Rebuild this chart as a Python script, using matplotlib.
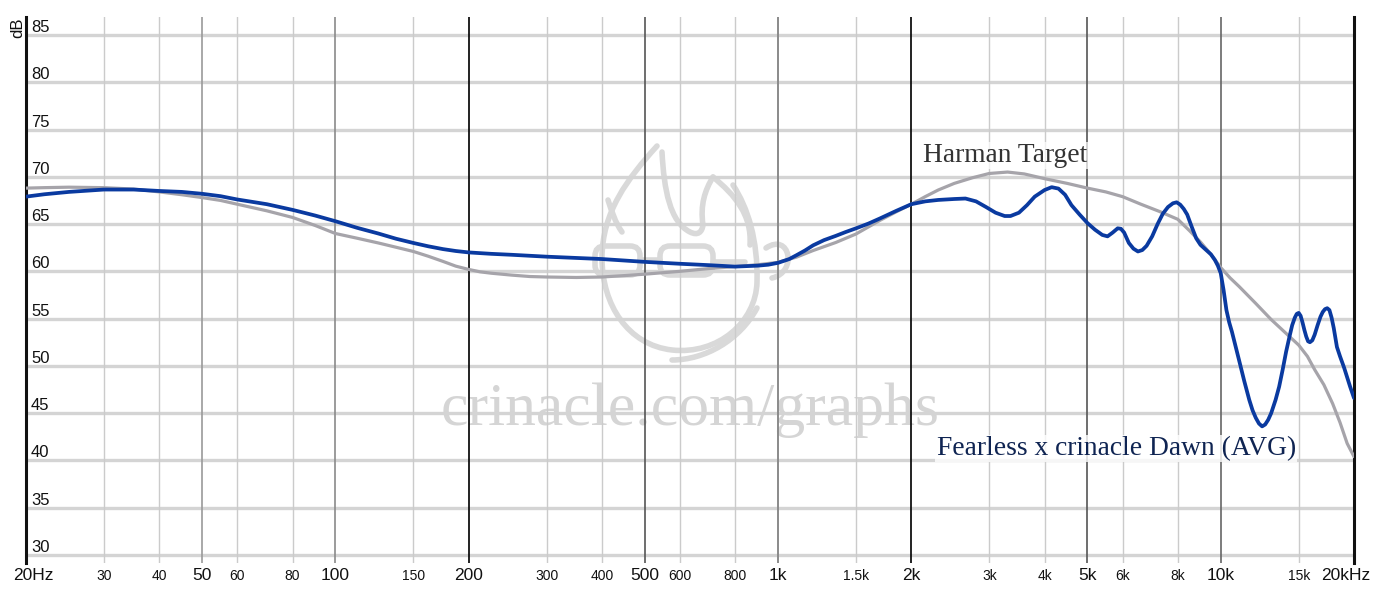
import matplotlib
matplotlib.use('Agg')
import matplotlib.pyplot as plt
from matplotlib.path import Path
from matplotlib.patches import PathPatch, FancyBboxPatch
from matplotlib.ticker import NullLocator

# ---------------- data ----------------
harman_freq = [20, 22, 25, 30, 35, 40, 45, 50, 55, 60, 70, 80, 90, 100, 112, 125, 137, 150,
               162, 175, 187, 200, 212, 225, 250, 275, 300, 350, 400, 450, 500, 600, 700,
               800, 900, 1000, 1100, 1200, 1350, 1500, 1700, 1850, 2000, 2150, 2300, 2500,
               2750, 3000, 3300, 3600, 4000, 4500, 5000, 5500, 6000, 6600, 7300, 8000,
               8500, 9000, 9500, 10000, 10500, 11000, 12000, 13000, 14000, 15000, 15700,
               16300, 17100, 17900, 18600, 19300, 20000]
harman_db = [68.8, 68.85, 68.9, 68.85, 68.7, 68.4, 68.1, 67.8, 67.5, 67.1, 66.4, 65.7, 64.85,
             64.0, 63.5, 63.0, 62.55, 62.1, 61.6, 61.05, 60.55, 60.2, 59.95, 59.8, 59.6,
             59.45, 59.4, 59.35, 59.4, 59.55, 59.7, 60.0, 60.3, 60.5, 60.7, 60.95, 61.5,
             62.2, 63.05, 63.95, 65.4, 66.3, 67.1, 67.9, 68.6, 69.3, 69.9, 70.35, 70.5, 70.3,
             69.8, 69.3, 68.8, 68.4, 67.9, 67.1, 66.3, 65.5, 64.3, 63.1, 61.8, 60.4, 59.3,
             58.4, 56.6, 54.9, 53.5, 52.2, 51.0, 49.6, 48.0, 46.0, 44.0, 41.8, 40.4]

dawn_freq = [20, 22, 25, 30, 35, 40, 45, 50, 55, 60, 70, 80, 90, 100, 112, 125, 137, 150,
             162, 175, 187, 200, 225, 250, 300, 400, 500, 600, 700, 800, 900, 950, 1000,
             1060, 1100, 1150, 1200, 1270, 1350, 1420, 1500, 1600, 1700, 1850, 2000, 2150,
             2300, 2500, 2650, 2800, 2950, 3100, 3250, 3350, 3500, 3650, 3800, 4000, 4150,
             4300, 4450, 4600, 4800, 5000, 5200, 5400, 5550, 5700, 5850, 5950, 6050, 6200,
             6350, 6500, 6650, 6800, 7000, 7200, 7400, 7600, 7800, 7950, 8100, 8250, 8400,
             8600, 8800, 9000, 9300, 9500, 9700, 9850, 10000, 10150, 10300, 10450, 10600,
             10800, 11000, 11300, 11600, 11800, 12000, 12200, 12400, 12600, 12800, 13000,
             13300, 13550, 13800, 14050, 14300, 14500, 14700, 14850, 15000, 15150, 15300,
             15450, 15600, 15750, 15900, 16100, 16300, 16550, 16800, 17000, 17200, 17400,
             17600, 17800, 18000, 18300, 18600, 19000, 19300, 19600, 20000]
dawn_db = [67.9, 68.15, 68.4, 68.65, 68.65, 68.5, 68.4, 68.2, 67.95, 67.6, 67.1, 66.5, 65.9,
           65.3, 64.6, 64.0, 63.45, 63.0, 62.65, 62.35, 62.15, 62.0, 61.85, 61.75, 61.55,
           61.3, 61.0, 60.8, 60.65, 60.5, 60.6, 60.7, 60.9, 61.3, 61.7, 62.2, 62.75, 63.3,
           63.75, 64.15, 64.55, 65.05, 65.6, 66.4, 67.1, 67.4, 67.55, 67.65, 67.7, 67.4,
           66.8, 66.2, 65.85, 65.85, 66.2, 67.0, 67.9, 68.6, 68.9, 68.75, 68.1, 67.0, 66.0,
           65.1, 64.4, 63.85, 63.7, 64.1, 64.55, 64.5, 64.1, 63.0, 62.4, 62.1, 62.25, 62.7,
           63.7, 65.0, 66.1, 66.8, 67.2, 67.3, 67.05, 66.6, 66.0, 64.7, 63.5, 62.8, 62.2,
           61.8, 61.2, 60.6, 59.8, 58.0, 55.9, 54.6, 53.6, 52.1, 50.6, 48.4, 46.4, 45.3,
           44.5, 43.9, 43.6, 43.8, 44.3, 45.0, 46.4, 47.8, 49.6, 51.5, 53.1, 54.3, 55.1,
           55.5, 55.6, 55.3, 54.6, 53.8, 53.1, 52.6, 52.5, 52.7, 53.3, 54.3, 55.2, 55.7,
           56.0, 56.1, 55.9, 55.1, 54.0, 52.0, 51.0, 49.8, 48.8, 47.8, 46.6]

db_ticks = [30, 35, 40, 45, 50, 55, 60, 65, 70, 75, 80, 85]
major_freqs = [20, 50, 100, 200, 500, 1000, 2000, 5000, 10000, 20000]
major_labels = ['20Hz', '50', '100', '200', '500', '1k', '2k', '5k', '10k', '20kHz']
minor_freqs = [30, 40, 60, 80, 150, 300, 400, 600, 800, 1500, 3000, 4000, 6000, 8000, 15000]
minor_labels = ['30', '40', '60', '80', '150', '300', '400', '600', '800', '1.5k', '3k',
                '4k', '6k', '8k', '15k']

target_name = 'Harman Target'
iem_name = 'Fearless x crinacle Dawn (AVG)'
watermark = 'crinacle.com/graphs'

# ---------------- figure ----------------
W, H = 1380, 596
fig = plt.figure(figsize=(W / 100, H / 100), dpi=100, facecolor='white')

# overlay (pixel coordinates) for watermark / logo
ov = fig.add_axes([0, 0, 1, 1], zorder=0)
ov.set_xlim(0, W)
ov.set_ylim(H, 0)
ov.axis('off')

ax = fig.add_axes([26 / W, 33 / H, 1328 / W, 546 / H], zorder=1)
ax.patch.set_alpha(0)
ax.set_xscale('log')
ax.set_xlim(20, 20000)
ax.set_ylim(29.15, 86.9)
ax.xaxis.set_major_locator(NullLocator())
ax.xaxis.set_minor_locator(NullLocator())
ax.yaxis.set_major_locator(NullLocator())
ax.yaxis.set_minor_locator(NullLocator())
for s in ['top', 'bottom']:
    ax.spines[s].set_visible(False)
for s in ['left', 'right']:
    ax.spines[s].set_color('#111111')
    ax.spines[s].set_linewidth(2.2)

# horizontal grid
for d in db_ticks:
    ax.axhline(d, color='#d4d4d4', lw=2.4, zorder=1)

# vertical grid
dark_style = {50: ('#9a9a9a', 1.2), 100: ('#8a8a8a', 1.2), 200: ('#111111', 1.3),
              500: ('#555555', 1.2), 1000: ('#8a8a8a', 1.4), 2000: ('#111111', 1.3),
              5000: ('#555555', 1.2), 10000: ('#666666', 1.2)}
for f in major_freqs[1:-1]:
    c, w = dark_style[f]
    ax.axvline(f, color=c, lw=w, zorder=1.5)
for f in minor_freqs:
    ax.axvline(f, color='#cbcbcb', lw=1.0, zorder=1.5)

# curves
ax.plot(harman_freq, harman_db, color='#a6a4aa', lw=2.3, zorder=3, solid_capstyle='round',
        solid_joinstyle='round')
ax.plot(dawn_freq, dawn_db, color='#0a3aa0', lw=2.7, zorder=4, solid_capstyle='round',
        solid_joinstyle='round')

# tick labels
sans = ['Liberation Sans', 'DejaVu Sans']
serif = ['Liberation Serif', 'DejaVu Serif']
for i, (f, lab) in enumerate(zip(major_freqs, major_labels)):
    dx = 0
    if i == 0:
        dx = 7
    elif i == len(major_freqs) - 1:
        dx = -8
    ax.annotate(lab, xy=(f, 0), xycoords=('data', 'axes fraction'),
                xytext=(dx * 0.72, -5 * 0.72), textcoords='offset points',
                ha='center', va='top', fontsize=12.5, family=sans, color='#111111',
                annotation_clip=False)
for f, lab in zip(minor_freqs, minor_labels):
    ax.annotate(lab, xy=(f, 0), xycoords=('data', 'axes fraction'),
                xytext=(0, -6.5 * 0.72), textcoords='offset points',
                ha='center', va='top', fontsize=10, family=sans, color='#111111',
                annotation_clip=False)
for d in db_ticks:
    ax.annotate(str(d), xy=(0, d), xycoords=('axes fraction', 'data'),
                xytext=(5 * 0.72, 3 * 0.72), textcoords='offset points',
                ha='left', va='baseline', fontsize=12, family=sans, color='#111111',
                annotation_clip=False)
ov.text(17.5, 28, 'dB', rotation=90, ha='center', va='center', fontsize=12,
        family=sans, color='#111111')

# curve labels
ax.text(2120, 71.57, target_name, ha='left', va='baseline', fontsize=19.8,
        family=serif, color='#333333', zorder=5,
        bbox=dict(facecolor='white', alpha=0.7, edgecolor='none', pad=1))
ax.text(2284, 40.58, iem_name, ha='left', va='baseline', fontsize=19.8,
        family=serif, color='#0f2452', zorder=5,
        bbox=dict(facecolor='white', alpha=0.8, edgecolor='none', pad=1))

# watermark text
ov.text(690, 425, watermark, ha='center', va='baseline', fontsize=44.5,
        family=serif, color='#d5d5d5')

# logo (rough sketch of the watermark emblem)
logo_col = '#d9d9d9'
M, L, C = Path.MOVETO, Path.LINETO, Path.CURVE4
paths = [
    ([(657, 146), (628, 178), (602, 212), (602, 258), (602, 305), (628, 345), (672, 350),
      (718, 355), (756, 322), (757, 282), (758, 240), (748, 208), (733, 185)],
     [M, C, C, C, C, C, C, C, C, C, C, C, C]),
    ([(662, 152), (664, 190), (670, 222), (690, 232), (698, 236), (702, 232), (703, 225),
      (700, 205), (705, 190), (713, 177)],
     [M, C, C, C, C, C, C, C, C, C]),
    ([(713, 177), (735, 195), (752, 215), (750, 245)], [M, C, C, C]),
    ([(608, 200), (612, 212), (615, 222), (622, 232)], [M, C, C, C]),
    ([(757, 308), (740, 340), (705, 360), (672, 360)], [M, C, C, C]),
    ([(766, 248), (790, 232), (798, 272), (772, 278)], [M, C, C, C]),
    ([(640, 260), (660, 260)], [M, L]),
    ([(713, 262), (745, 262)], [M, L]),
]
for verts, codes in paths:
    ov.add_patch(PathPatch(Path(verts, codes), facecolor='none', edgecolor=logo_col,
                           lw=4, capstyle='round'))
for (x0, y0, x1, y1) in [(595, 246, 640, 275), (660, 246, 713, 275)]:
    ov.add_patch(FancyBboxPatch((x0, y0), x1 - x0, y1 - y0,
                                boxstyle='round,pad=0,rounding_size=10',
                                facecolor='none', edgecolor=logo_col, lw=4))

fig.savefig('out.png', dpi=100, facecolor='white')
